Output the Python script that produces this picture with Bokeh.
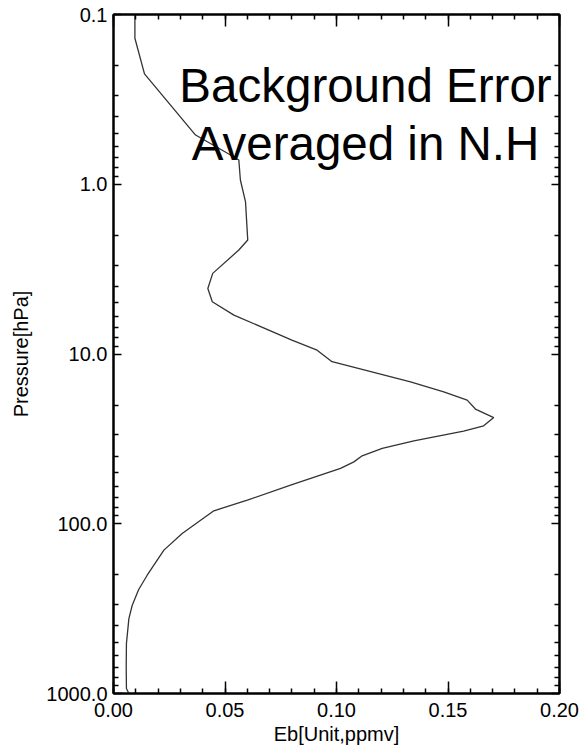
from bokeh.plotting import figure
from bokeh.models import (LinearAxis, LogAxis, FixedTicker, Range1d, Label,
                          NumeralTickFormatter, CustomLabelingPolicy)
from bokeh.embed import file_html
from bokeh.resources import INLINE

# ---- data ----
pressure = [0.1, 0.138, 0.224, 0.513, 0.673, 0.72, 0.944, 1.27, 2.13, 2.44,
            3.35, 4.11, 4.92, 5.9, 8.28, 9.49, 11.1, 14.6, 16.7, 18.7,
            21.1, 23.7, 26.5, 28.5, 32.5, 36.0, 39.8, 43.2, 47.2, 59.3,
            72.6, 83.9, 114, 143, 201, 244, 302, 362, 507, 697, 934, 1000]
eb = [0.0096, 0.0096, 0.0139, 0.0368, 0.0525, 0.0562, 0.0569, 0.0592, 0.0602, 0.0562,
      0.0445, 0.0423, 0.0443, 0.054, 0.0800, 0.0913, 0.098, 0.1332, 0.1481, 0.1586,
      0.1623, 0.1705, 0.166, 0.157, 0.1347, 0.1205, 0.1115, 0.1078, 0.1018, 0.0794,
      0.060, 0.045, 0.0308, 0.0226, 0.0151, 0.0113, 0.0084, 0.0069, 0.0058, 0.0057,
      0.0058, 0.0069]
x_ticks = [0.00, 0.05, 0.10, 0.15, 0.20]
y_ticks = [0.1, 1.0, 10.0, 100.0, 1000.0]
title_lines = ["Background Error", "Averaged in N.H"]
x_label = "Eb[Unit,ppmv]"
y_label = "Pressure[hPa]"

FONT = "Liberation Sans"

p = figure(width=581, height=748, y_axis_type="log",
           x_range=Range1d(0.0, 0.2), y_range=Range1d(1000, 0.1),
           output_backend="svg", toolbar_location=None,
           min_border_left=113, min_border_right=22,
           min_border_top=14, min_border_bottom=55,
           background_fill_color="white", border_fill_color="white")
p.grid.visible = False
p.outline_line_color = "black"
p.outline_line_width = 2

x_minor = [round(0.01 * i, 2) for i in range(21)]
y_minor = [m * 10.0 ** k for k in range(-1, 3) for m in range(2, 10)]

hide_all = CustomLabelingPolicy(code="for (const i of indices) { indices.unset(i) } return indices")


def style(ax, major_len, show_labels=True):
    ax.axis_line_color = "black"
    ax.axis_line_width = 2
    ax.major_tick_line_color = "black"
    ax.minor_tick_line_color = "black"
    ax.major_tick_line_width = 1.5
    ax.minor_tick_line_width = 1.5
    ax.major_tick_in = major_len
    ax.major_tick_out = 0
    ax.minor_tick_in = 5
    ax.minor_tick_out = 0
    ax.major_label_text_font = FONT
    ax.major_label_text_color = "black"
    ax.axis_label_text_font = FONT
    ax.axis_label_text_font_style = "normal"
    ax.axis_label_text_font_size = "20px"
    ax.axis_label_text_color = "black"
    if show_labels:
        ax.major_label_text_font_size = "20px"
    else:
        ax.major_label_text_font_size = "1px"
        ax.major_label_standoff = 0
        ax.major_label_policy = hide_all


xa = p.xaxis[0]
xa.ticker = FixedTicker(ticks=x_ticks, minor_ticks=x_minor)
xa.formatter = NumeralTickFormatter(format="0.00")
xa.axis_label = x_label
xa.major_label_standoff = 9
xa.axis_label_standoff = 3
style(xa, 12)

ya = p.yaxis[0]
ya.ticker = FixedTicker(ticks=y_ticks, minor_ticks=y_minor)
ya.formatter = NumeralTickFormatter(format="0.0")
ya.axis_label = y_label
ya.major_label_standoff = 6
ya.axis_label_standoff = 11
style(ya, 8)

top = LinearAxis(ticker=FixedTicker(ticks=x_ticks, minor_ticks=x_minor))
style(top, 12, show_labels=False)
p.add_layout(top, "above")

right = LogAxis(ticker=FixedTicker(ticks=y_ticks, minor_ticks=y_minor))
style(right, 8, show_labels=False)
p.add_layout(right, "right")

p.line(eb, pressure, line_color="#333333", line_width=1.3)

for txt, yv in zip(title_lines, [0.262, 0.576]):
    p.add_layout(Label(x=0.113, y=yv, text=txt, text_align="center",
                       text_baseline="alphabetic", text_font=FONT,
                       text_font_size="47.5px", text_color="black"))

open("out.html", "w").write(file_html(p, INLINE))
